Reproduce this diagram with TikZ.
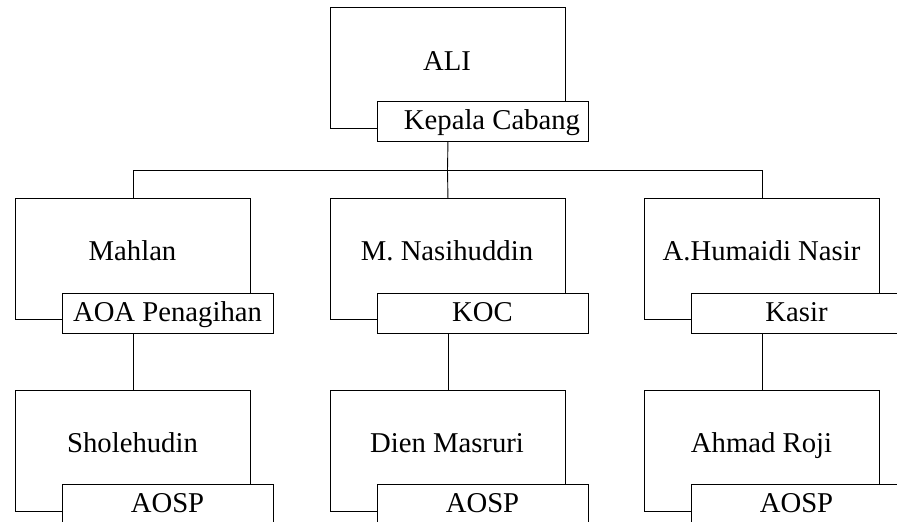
\documentclass[tikz,border=0pt]{standalone}
\usepackage{fontspec}
\setmainfont{Liberation Serif}
\begin{document}
\begin{tikzpicture}[x=1pt,y=-1pt,
  namebox/.style={draw=black,line width=0.9pt,minimum width=235pt,minimum height=121pt,inner sep=0pt,anchor=north west},
  rolebox/.style={draw=black,line width=0.9pt,fill=white,minimum width=211pt,minimum height=40pt,inner sep=0pt,anchor=north west},
  txt/.style={anchor=base,inner sep=0pt,font=\fontsize{28.7}{30}\selectfont},
  conn/.style={draw=black,line width=0.9pt}]
\useasboundingbox (0,0) rectangle (897,522);
\clip (0,0) rectangle (897,522);
% top
\node[namebox] (b0) at (330,7) {};
\node[txt] (t0) at (447,70) {ALI};
\node[rolebox] (r0) at (377,101) {};
\node[txt] (rt0) at (492,129.5) {Kepala Cabang};
% level 2
\node[namebox] (b1) at (15,198) {};
\node[txt] (t1) at (132.5,260.5) {Mahlan};
\node[rolebox] (r1) at (62,293) {};
\node[txt] (rt1) at (167.5,321.5) {AOA Penagihan};
\node[namebox] (b2) at (330,198) {};
\node[txt] (t2) at (447,260.5) {M. Nasihuddin};
\node[rolebox] (r2) at (377,293) {};
\node[txt] (rt2) at (482.5,321.5) {KOC};
\node[namebox] (b3) at (644,198) {};
\node[txt] (t3) at (761.5,260.5) {A.Humaidi Nasir};
\node[rolebox] (r3) at (691,293) {};
\node[txt] (rt3) at (796.5,321.5) {Kasir};
% level 3
\node[namebox] (b4) at (15,390) {};
\node[txt] (t4) at (132.5,452.5) {Sholehudin};
\node[rolebox] (r4) at (62,484) {};
\node[txt] (rt4) at (167.5,512.5) {AOSP};
\node[namebox] (b5) at (330,390) {};
\node[txt] (t5) at (447,452.5) {Dien Masruri};
\node[rolebox] (r5) at (377,484) {};
\node[txt] (rt5) at (482.5,512.5) {AOSP};
\node[namebox] (b6) at (644,390) {};
\node[txt] (t6) at (761.5,452.5) {Ahmad Roji};
\node[rolebox] (r6) at (691,484) {};
\node[txt] (rt6) at (796.5,512.5) {AOSP};
% connectors
\coordinate (bus) at (447.5,170);
\draw[conn] (r0.south -| b0.north) -- (bus);
\draw[conn] (bus) -| (b1.north);
\draw[conn] (bus) -| (b3.north);
\draw[conn] (bus) -- (b2.north);
\draw[conn] (b1.north |- r1.south) -- (b4.north);
\draw[conn] (b2.north |- r2.south) -- (b5.north);
\draw[conn] (b3.north |- r3.south) -- (b6.north);
\end{tikzpicture}
\end{document}
